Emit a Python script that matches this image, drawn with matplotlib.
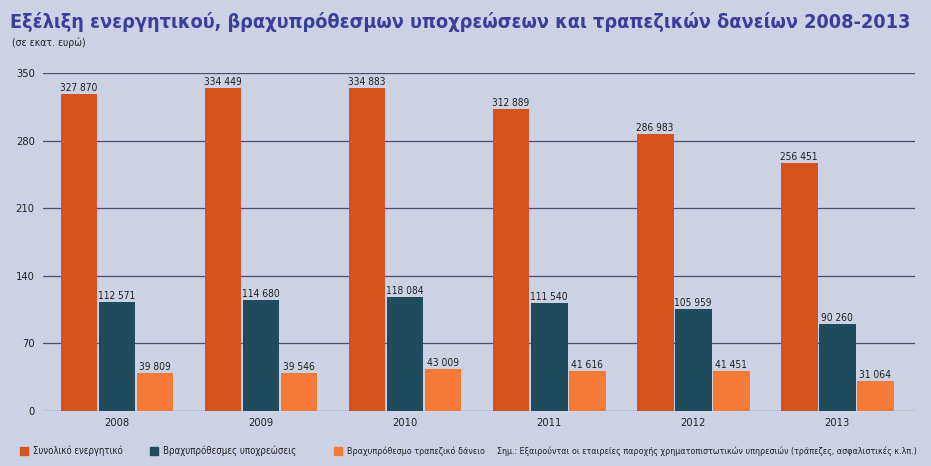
import matplotlib
matplotlib.use("Agg")
import matplotlib.pyplot as plt
import matplotlib.font_manager as fm
from matplotlib.font_manager import FontProperties
import numpy as np

years = ["2008", "2009", "2010", "2011", "2012", "2013"]
total_assets = [327870, 334449, 334883, 312889, 286983, 256451]
short_liab = [112571, 114680, 118084, 111540, 105959, 90260]
short_loans = [39809, 39546, 43009, 41616, 41451, 31064]
series_names = ["Συνολικό ενεργητικό", "Βραχυπρόθεσμες υποχρεώσεις", "Βραχυπρόθεσμο τραπεζικό δάνειο"]
colors = ["#d4531f", "#1f4c5c", "#f47a35"]
yticks = [0, 70, 140, 210, 280, 350]
title = "Εξέλιξη ενεργητικού, βραχυπρόθεσμων υποχρεώσεων και τραπεζικών δανείων 2008-2013"
subtitle = "(σε εκατ. ευρώ)"
note = "Σημ.: Εξαιρούνται οι εταιρείες παροχής χρηματοπιστωτικών υπηρεσιών (τράπεζες, ασφαλιστικές κ.λπ.)"

# pick a narrow font if one is installed
files = [f.fname for f in fm.fontManager.ttflist]
def find(keys):
    for k in keys:
        for fn in files:
            if fn.split("/")[-1].lower() == k.lower():
                return fn
    return None
reg = find(["LiberationSansNarrow-Regular.ttf", "DejaVuSansCondensed.ttf", "RobotoCondensed-Regular.ttf", "Roboto-Regular.ttf"])
bold = find(["LiberationSansNarrow-Bold.ttf", "DejaVuSansCondensed-Bold.ttf", "RobotoCondensed-Bold.ttf", "Roboto-Bold.ttf"])
def fp(size, b=False):
    path = bold if b else reg
    if path:
        return FontProperties(fname=path, size=size)
    return FontProperties(family="DejaVu Sans", size=size, weight="bold" if b else "normal")

bg = "#ccd2e4"
fig = plt.figure(figsize=(9.31, 4.66), dpi=100, facecolor=bg)
W, H = 931, 466
ax = fig.add_axes([43 / W, 55 / H, (915 - 43) / W, (411 - 73) / H])
ax.set_facecolor(bg)
renderer = fig.canvas.get_renderer()

def fit(t, target):
    w = t.get_window_extent(renderer).width
    t.set_fontsize(t.get_fontsize() * target / w)

x = np.arange(len(years))
off = 0.264
bw = 0.255
for k, (vals, c) in enumerate(zip([total_assets, short_liab, short_loans], colors)):
    v = np.array(vals) / 1000.0
    ax.bar(x + (k - 1) * off, v, width=bw, color=c, zorder=3)
    for xi, vi, raw in zip(x + (k - 1) * off, v, vals):
        s = f"{raw:,}".replace(",", " ")
        ax.text(xi, vi + 1.0, s, ha="center", va="bottom", fontproperties=fp(7.3), color="#1e1e1e", zorder=4)

ax.set_xlim(-0.514, 5.54)
ax.set_ylim(0, 350)
ax.set_yticks(yticks)
ax.set_yticklabels([str(t) for t in yticks], fontproperties=fp(8), color="#222222")
ax.set_xticks(x)
ax.set_xticklabels(years, fontproperties=fp(8), color="#222222")
ax.tick_params(length=0, pad=5)
ax.tick_params(axis="y", pad=6)
ax.grid(axis="y", color="#4a4f66", linewidth=0.9, zorder=1)
for s in ax.spines.values():
    s.set_visible(False)
ax.set_axisbelow(True)

tt = fig.text(10 / W, 1 - 22 / H, title, fontproperties=fp(15, True), color="#3b3f9c", va="center", ha="left")
fit(tt, 905)
st = fig.text(12 / W, 1 - 43 / H, subtitle, fontproperties=fp(8.5), color="#222222", va="center", ha="left")
fit(st, 74)

ly = 1 - 451 / H
legend_x = [20, 150, 334]
legend_w = [90, 132, 136]
for lx, name, c, lw in zip(legend_x, series_names, colors, legend_w):
    fig.patches.append(matplotlib.patches.Rectangle((lx / W, ly - 4 / H), 8 / W, 8 / H, transform=fig.transFigure, color=c))
    t = fig.text((lx + 13) / W, ly, name, fontproperties=fp(8), color="#222222", va="center", ha="left")
    fit(t, lw)
nt = fig.text(497 / W, ly, note, fontproperties=fp(8), color="#222222", va="center", ha="left")
fit(nt, 414)

fig.savefig("out.png", dpi=100, facecolor=bg)
